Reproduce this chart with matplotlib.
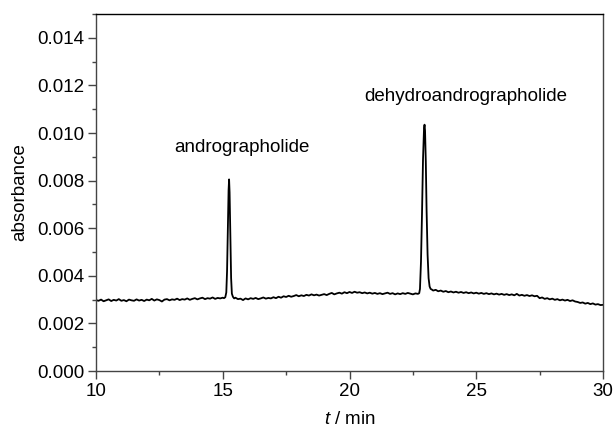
import matplotlib
matplotlib.use("Agg")
import matplotlib.pyplot as plt
import numpy as np
from matplotlib.ticker import MultipleLocator

plt.rcParams["font.family"] = ["Liberation Sans", "DejaVu Sans"]
plt.rcParams["mathtext.fontset"] = "custom"
plt.rcParams["mathtext.it"] = "Liberation Sans:italic"

# chromatogram: retention time (min) and absorbance (x 1e-3)
time_min = [
    10.0, 10.1, 10.2, 10.3, 10.4, 10.5, 10.6, 10.7, 10.8, 10.9,
    11.0, 11.1, 11.2, 11.3, 11.4, 11.5, 11.6, 11.7, 11.8, 11.9,
    12.0, 12.1, 12.2, 12.3, 12.4, 12.5, 12.6, 12.7, 12.8, 12.9,
    13.0, 13.1, 13.2, 13.3, 13.4, 13.5, 13.6, 13.7, 13.8, 13.9,
    14.0, 14.1, 14.2, 14.3, 14.4, 14.5, 14.6, 14.7, 14.8, 14.9,
    15.0, 15.05, 15.1,
    15.14, 15.17, 15.20, 15.23, 15.25, 15.27, 15.30, 15.33, 15.36, 15.40, 15.45,
    15.5, 15.6, 15.7, 15.8, 15.9,
    16.0, 16.1, 16.2, 16.3, 16.4, 16.5, 16.6, 16.7, 16.8, 16.9,
    17.0, 17.1, 17.2, 17.3, 17.4, 17.5, 17.6, 17.7, 17.8, 17.9,
    18.0, 18.1, 18.2, 18.3, 18.4, 18.5, 18.6, 18.7, 18.8, 18.9,
    19.0, 19.1, 19.2, 19.3, 19.4, 19.5, 19.6, 19.7, 19.8, 19.9,
    20.0, 20.1, 20.2, 20.3, 20.4, 20.5, 20.6, 20.7, 20.8, 20.9,
    21.0, 21.1, 21.2, 21.3, 21.4, 21.5, 21.6, 21.7, 21.8, 21.9,
    22.0, 22.1, 22.2, 22.3, 22.4, 22.5, 22.6, 22.7, 22.75,
    22.78, 22.82, 22.86, 22.90, 22.94, 22.96, 22.98, 23.01, 23.04, 23.08,
    23.12, 23.16, 23.20, 23.25,
    23.3, 23.4, 23.5, 23.6, 23.7, 23.8, 23.9,
    24.0, 24.1, 24.2, 24.3, 24.4, 24.5, 24.6, 24.7, 24.8, 24.9,
    25.0, 25.1, 25.2, 25.3, 25.4, 25.5, 25.6, 25.7, 25.8, 25.9,
    26.0, 26.1, 26.2, 26.3, 26.4, 26.5, 26.6, 26.7, 26.8, 26.9,
    27.0, 27.1, 27.2, 27.3, 27.4, 27.5, 27.6, 27.7, 27.8, 27.9,
    28.0, 28.1, 28.2, 28.3, 28.4, 28.5, 28.6, 28.7, 28.8, 28.9,
    29.0, 29.1, 29.2, 29.3, 29.4, 29.5, 29.6, 29.7, 29.8, 29.9,
    30.0,
]
absorbance_milli = [
    2.98, 2.95, 3.00, 2.93, 2.97, 3.01, 2.94, 2.99, 2.96, 3.02,
    2.95, 2.98, 2.93, 3.00, 2.97, 2.95, 3.01, 2.96, 2.99, 2.94,
    3.00, 2.97, 3.03, 2.96, 3.01, 2.98, 2.92, 3.00, 3.02, 2.97,
    3.01, 2.99, 3.04, 2.98, 3.02, 3.00, 3.05, 2.99, 3.03, 3.06,
    3.01, 3.05, 3.08, 3.02, 3.06, 3.04, 3.09, 3.03, 3.07, 3.05,
    3.08, 3.06, 3.10,
    3.30, 4.20, 6.00, 7.60, 8.05, 7.50, 5.60, 3.90, 3.25, 3.12, 3.05,
    3.08, 3.02, 3.04, 2.98, 3.05,
    3.01, 3.06, 3.03, 3.07, 3.02, 3.05, 3.09, 3.04, 3.07, 3.05,
    3.10, 3.06, 3.12, 3.08, 3.14, 3.11, 3.16, 3.12, 3.15, 3.19,
    3.14, 3.18, 3.15, 3.20, 3.17, 3.22, 3.18, 3.21, 3.17, 3.20,
    3.23, 3.19, 3.24, 3.28, 3.22, 3.26, 3.29, 3.25, 3.31, 3.27,
    3.32, 3.28, 3.33, 3.29, 3.31, 3.27, 3.30, 3.26, 3.29, 3.25,
    3.28, 3.24, 3.27, 3.23, 3.26, 3.29, 3.24, 3.27, 3.22, 3.26,
    3.23, 3.27, 3.24, 3.28, 3.25, 3.22, 3.26, 3.24, 3.27,
    3.45, 4.60, 6.60, 8.90, 10.20, 10.35, 10.10, 8.80, 6.80, 4.90,
    3.90, 3.55, 3.45, 3.42,
    3.38, 3.41, 3.35, 3.38, 3.33, 3.36, 3.31,
    3.34, 3.30, 3.33, 3.29, 3.32, 3.28, 3.31, 3.27, 3.30, 3.26,
    3.29, 3.25, 3.28, 3.24, 3.27, 3.23, 3.26, 3.22, 3.25, 3.21,
    3.24, 3.20, 3.23, 3.19, 3.22, 3.18, 3.24, 3.17, 3.20, 3.16,
    3.19, 3.15, 3.18, 3.14, 3.16, 3.06, 3.09, 3.03, 3.06, 3.01,
    3.04, 2.99, 3.02, 2.97, 3.00, 2.96, 2.99, 2.94, 2.97, 2.92,
    2.90, 2.86, 2.88, 2.83, 2.86, 2.81, 2.84, 2.79, 2.81, 2.77,
    2.78,
]

peak_names = ["andrographolide", "dehydroandrographolide"]
peak_label_x = [15.74, 24.6]
peak_label_y = [0.0094, 0.01152]

absorbance = np.array(absorbance_milli) / 1000.0

fig = plt.figure(figsize=(6.16, 4.33), dpi=100)
ax = fig.add_axes([96 / 616, 1 - 371 / 433, 507 / 616, 357 / 433])

ax.plot(time_min, absorbance, color="black", lw=1.3)

for name, x, y in zip(peak_names, peak_label_x, peak_label_y):
    ax.text(x, y, name, ha="center", va="center", fontsize=13.5)

ax.set_xlim(10, 30)
ax.set_ylim(0, 0.015)
ax.xaxis.set_major_locator(MultipleLocator(5))
ax.xaxis.set_minor_locator(MultipleLocator(2.5))
ax.yaxis.set_major_locator(MultipleLocator(0.002))
ax.yaxis.set_minor_locator(MultipleLocator(0.001))
ax.yaxis.set_major_formatter(plt.FuncFormatter(lambda v, p: f"{v:.3f}"))

ax.tick_params(which="both", direction="out", labelsize=13.5, color="#444444")
ax.tick_params(which="major", length=5.5, width=1.0, pad=3)
ax.tick_params(which="minor", length=3, width=1.0)
for spine in ax.spines.values():
    spine.set_color("#444444")
    spine.set_linewidth(1.0)
ax.spines["top"].set_color("black")

ax.set_ylabel("absorbance", fontsize=13.5, labelpad=6)
ax.set_xlabel("$t$ / min", fontsize=13.5, labelpad=8)

fig.savefig("out.png", dpi=100)
